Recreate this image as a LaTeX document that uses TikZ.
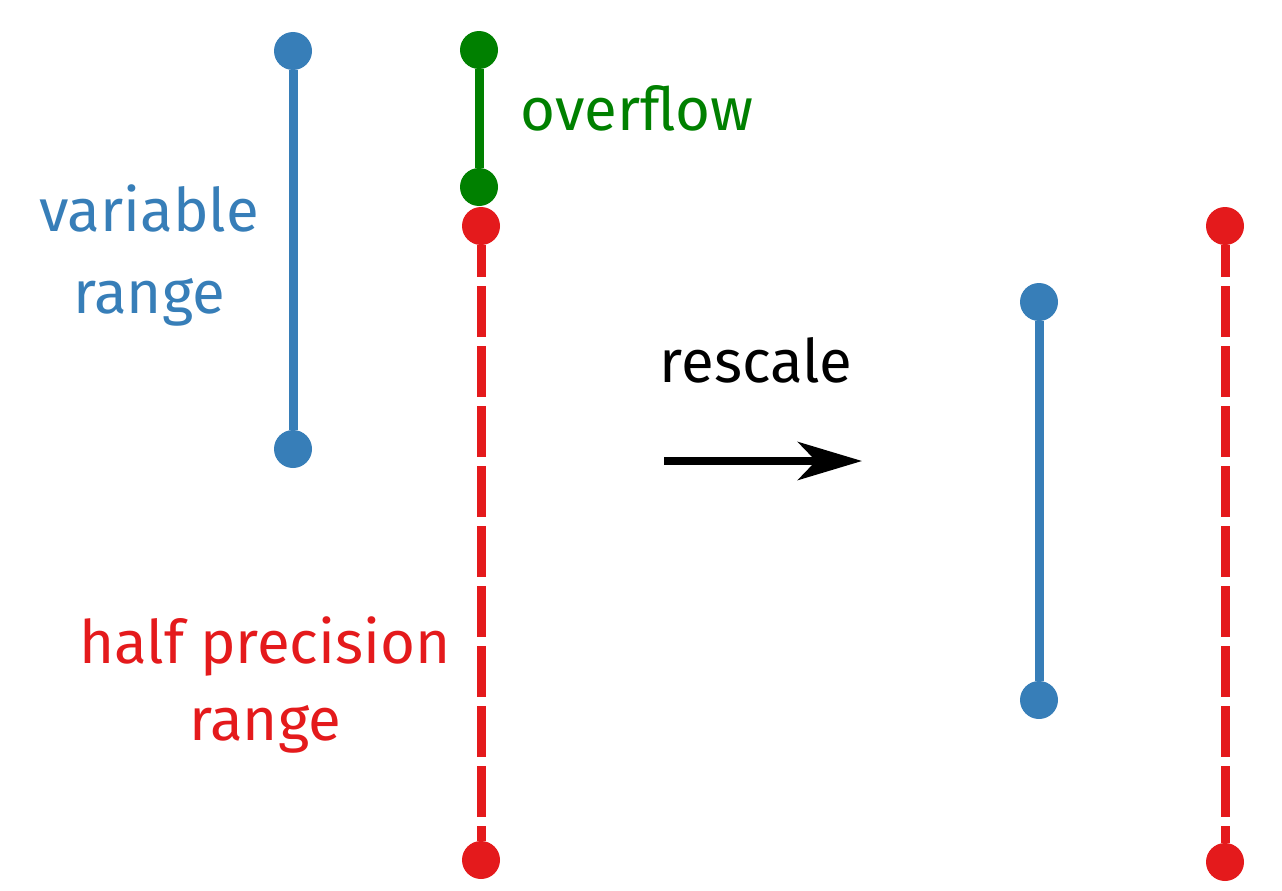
\documentclass[tikz,border=0pt]{standalone}
\usepackage{fontspec}
\setmainfont{Fira Sans}
\usetikzlibrary{arrows.meta}
\definecolor{cblue}{HTML}{377EB8}
\definecolor{cred}{HTML}{E41A1C}
\definecolor{cgreen}{HTML}{008000}
\tikzset{
  dotb/.style={circle,fill=cblue,inner sep=0pt,minimum size=38pt},
  dotr/.style={circle,fill=cred,inner sep=0pt,minimum size=38pt},
  dotg/.style={circle,fill=cgreen,inner sep=0pt,minimum size=38pt},
  seg/.style={line width=9pt},
  dashseg/.style={line width=9pt,dash pattern=on 51pt off 9pt,dash phase=19pt},
  lbl/.style={inner sep=0pt,font=\fontsize{60}{72}\selectfont},
}
\begin{document}
\begin{tikzpicture}[x=1pt,y=-1pt]
\useasboundingbox (0,0) rectangle (1282,891);
% left blue
\node[dotb] (b1) at (293,51) {};
\node[dotb] (b2) at (293,449) {};
\draw[seg,cblue] (b1) -- (b2);
% green overflow
\node[dotg] (g1) at (479,50) {};
\node[dotg] (g2) at (479,187) {};
\draw[seg,cgreen] (g1) -- (g2);
% left red
\node[dotr] (r1) at (481,226) {};
\node[dotr] (r2) at (481,860) {};
\draw[dashseg,cred] (r1) -- (r2);
% right blue
\node[dotb] (b3) at (1039,302) {};
\node[dotb] (b4) at (1039,700) {};
\draw[seg,cblue] (b3) -- (b4);
% right red
\node[dotr] (r3) at (1225,226) {};
\node[dotr] (r4) at (1225,862) {};
\draw[dashseg,cred] (r3) -- (r4);
% arrow
\coordinate (a1) at (664,461);
\coordinate (a2) at (862,461);
\draw[line width=8pt,-{Stealth[length=64pt,width=38pt,inset=18pt]}] (a1) -- (a2);
% labels
\node[lbl,text=cgreen,anchor=base west] (tov) at (520,130) {overflow};
\node[lbl,text=cblue,anchor=base] (tv1) at (149,231) {variable};
\node[lbl,text=cblue,anchor=base] (tv2) at (149,313) {range};
\node[lbl,anchor=base] (tr) at (756,382) {rescale};
\node[lbl,text=cred,anchor=base] (th1) at (265,663) {half precision};
\node[lbl,text=cred,anchor=base] (th2) at (265,740) {range};
\end{tikzpicture}
\end{document}
